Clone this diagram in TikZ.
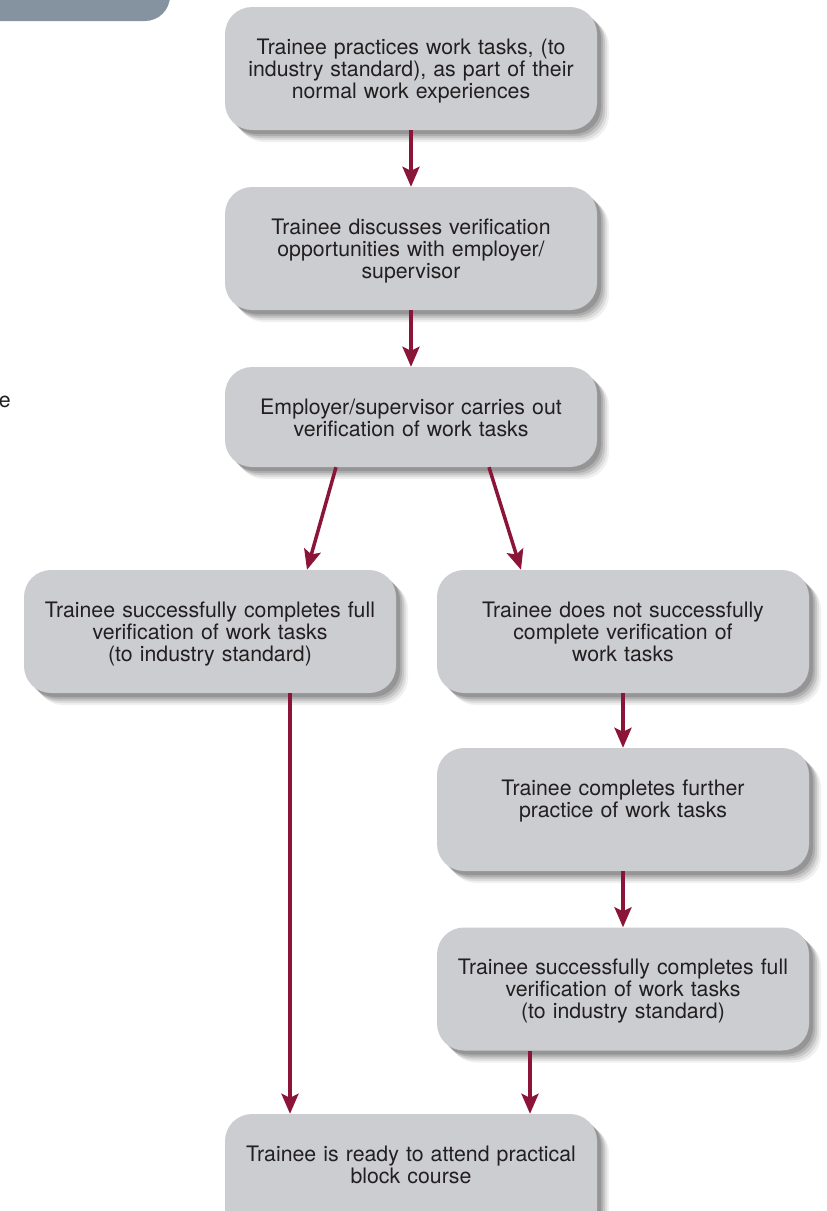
\documentclass[tikz,border=0pt]{standalone}
\usepackage{fontspec}
\setmainfont{TeX Gyre Heros}
\usetikzlibrary{arrows.meta, shadows}
\tikzstyle{soft shadow} = [
    drop shadow={shadow xshift=12pt, shadow yshift=-12pt, opacity=0.06, fill=black},
    drop shadow={shadow xshift=10pt, shadow yshift=-10pt, opacity=0.08, fill=black},
    drop shadow={shadow xshift=8pt, shadow yshift=-8pt, opacity=0.10, fill=black},
    drop shadow={shadow xshift=6pt, shadow yshift=-6pt, opacity=0.12, fill=black},
    drop shadow={shadow xshift=4pt, shadow yshift=-4pt, opacity=0.14, fill=black},
]
\tikzstyle{rect} = [
    rectangle,
    rounded corners=27pt,
    align=center,
    text width=352pt,
    minimum width=372pt,
    minimum height=123pt,
    inner xsep=10pt,
    inner ysep=10pt,
    text height=37pt,
    text depth=66pt,
    fill=boxgrey,
    text=textdark,
    font=\fontsize{21.3}{22}\selectfont,
    soft shadow,
]
\tikzstyle{srect} = [rect, minimum height=100pt, text depth=43pt]
\tikzstyle{arrow} = [line width=3.5pt, arrowred,
    -{Stealth[length=20pt, width=17pt, inset=4pt]}]
\definecolor{boxgrey}{HTML}{CBCDD1}
\definecolor{textdark}{HTML}{231F20}
\definecolor{arrowred}{HTML}{8B1538}
\definecolor{tabgrey}{HTML}{8592A0}

\begin{document}
\begin{tikzpicture}[x=1pt, y=-1pt]
    \useasboundingbox (0,0) rectangle (827,1211);
    \clip (0,0) rectangle (827,1211);

    % cut-off parts at the left edge
    \fill [tabgrey, rounded corners=25pt] (-40,-40) rectangle (170,21);
    \node (ee) [anchor=base east, inner sep=0pt, text=textdark,
        font=\fontsize{21.3}{22}\selectfont] at (11,407) {e};

    \node (pr) [rect] at (411,68.5) {Trainee practices work tasks, (to\\
        industry standard), as part of their\\ normal work experiences};
    \node (di) [rect] at (411,248.5) {Trainee discusses verification\\
        opportunities with employer/\\ supervisor};
    \node (ve) [srect] at (411,417) {Employer/supervisor carries out\\
        verification of work tasks};
    \node (ok) [rect] at (210,631.5) {Trainee successfully completes full\\
        verification of work tasks\\ (to industry standard)};
    \node (no) [rect] at (623,631.5) {Trainee does not successfully\\
        complete verification of\\ work tasks};
    \node (fp) [rect] at (623,809.5) {Trainee completes further\\
        practice of work tasks};
    \node (sc) [rect] at (623,989) {Trainee successfully completes full\\
        verification of work tasks\\ (to industry standard)};
    \node (rd) [rect] at (411,1175.5) {Trainee is ready to attend practical\\
        block course};

    \path [arrow]
        (pr) edge (di)
        (di) edge (ve)
        ([xshift=-75pt]ve.south) edge ([xshift=97pt]ok.north)
        ([xshift=78pt]ve.south) edge ([xshift=-102pt]no.north)
        (no) edge (fp)
        (fp) edge (sc)
        ([xshift=80pt]ok.south) edge ([xshift=80pt]ok.south |- rd.north)
        ([xshift=-93pt]sc.south) edge ([xshift=-93pt]sc.south |- rd.north);
\end{tikzpicture}
\end{document}
